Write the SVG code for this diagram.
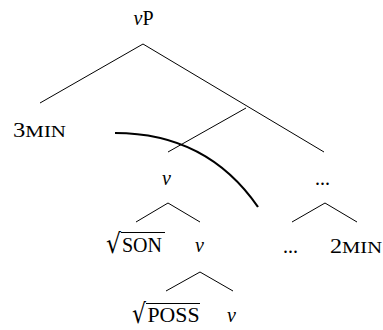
<svg xmlns="http://www.w3.org/2000/svg" width="383" height="330" viewBox="0 0 383 330">
<style>
.t{font-family:"Liberation Serif","DejaVu Serif",serif;font-size:20px;fill:#000}
.i{font-style:italic}
.sc{font-size:17px}
.r{font-family:"DejaVu Serif",serif;font-size:27px}
.l{stroke:#000;stroke-width:1;fill:none}
</style>
<rect width="383" height="330" fill="#fff"/>
<g id="connectors">
<line class="l" x1="143" y1="44" x2="40" y2="103"/>
<line class="l" x1="143" y1="44" x2="324" y2="152"/>
<line class="l" x1="246" y1="108" x2="168" y2="152"/>
<line class="l" x1="168" y1="203" x2="136" y2="222"/>
<line class="l" x1="168" y1="203" x2="200" y2="222"/>
<line class="l" x1="200" y1="272" x2="166" y2="291"/>
<line class="l" x1="200" y1="272" x2="233" y2="291"/>
<line class="l" x1="325" y1="203" x2="292" y2="222"/>
<line class="l" x1="325" y1="203" x2="357" y2="222"/>
<path d="M115 133 Q207 133 258 207" stroke="#000" stroke-width="2.2" fill="none"/>
</g>
<g id="vP"><text class="t" x="143.5" y="25" font-size="22" text-anchor="middle"><tspan class="i">v</tspan>P</text></g>
<g id="min3"><text class="t" x="13" y="137" textLength="53" lengthAdjust="spacingAndGlyphs">3<tspan class="sc">MIN</tspan></text></g>
<g id="v1"><text class="t i" x="162" y="185">v</text></g>
<g id="son"><text class="t" y="252"><tspan class="r" x="106" dy="1" textLength="15" lengthAdjust="spacingAndGlyphs">√</tspan><tspan x="122" dy="-1">SON</tspan></text><line class="l" x1="121" y1="232.5" x2="165" y2="232.5"/></g>
<g id="v2"><text class="t i" x="195" y="252">v</text></g>
<g id="poss"><text class="t" y="322"><tspan class="r" x="132" dy="1" textLength="14" lengthAdjust="spacingAndGlyphs">√</tspan><tspan x="147.5" dy="-1" textLength="52" lengthAdjust="spacingAndGlyphs">POSS</tspan></text><line class="l" x1="146" y1="303.5" x2="200" y2="303.5"/></g>
<g id="v3"><text class="t i" x="227" y="322">v</text></g>
<g id="dots1"><text class="t" x="315" y="185">...</text></g>
<g id="dots2"><text class="t" x="283" y="253">...</text></g>
<g id="min2"><text class="t" x="330" y="253" textLength="52" lengthAdjust="spacingAndGlyphs">2<tspan class="sc">MIN</tspan></text></g>
</svg>
